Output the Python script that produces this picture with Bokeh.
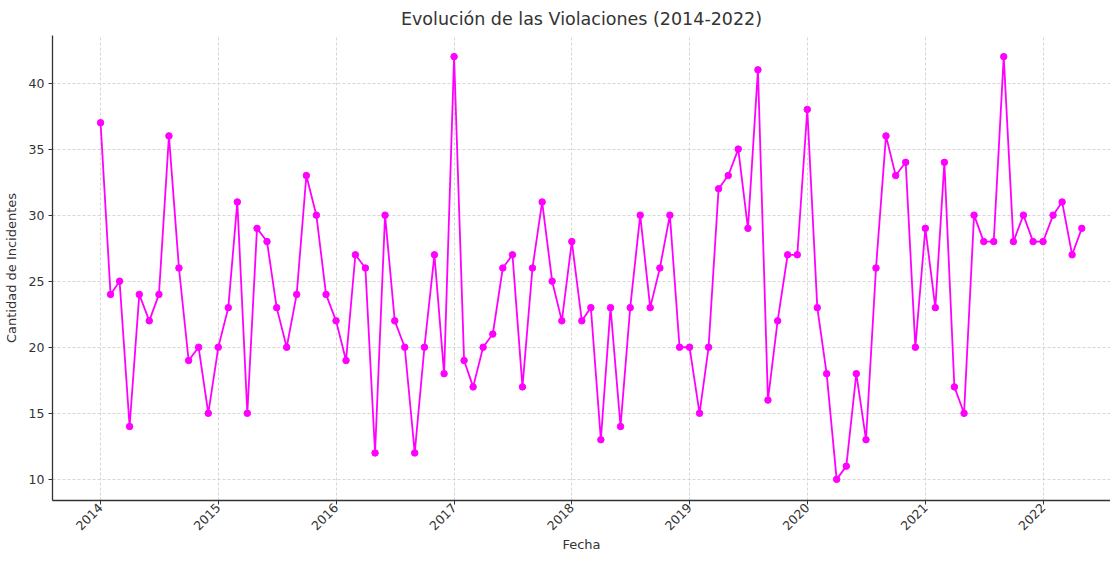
from datetime import datetime
import pandas as pd
from bokeh.plotting import figure
from bokeh.models import ColumnDataSource, Range1d, FixedTicker, DatetimeTickFormatter
from bokeh.embed import file_html
from bokeh.resources import INLINE
import math

# ---- data ----
months = pd.date_range("2014-01-01", "2022-05-01", freq="MS")
incidents_2014 = [37, 24, 25, 14, 24, 22, 24, 36, 26, 19, 20, 15]
incidents_2015 = [20, 23, 31, 15, 29, 28, 23, 20, 24, 33, 30, 24]
incidents_2016 = [22, 19, 27, 26, 12, 30, 22, 20, 12, 20, 27, 18]
incidents_2017 = [42, 19, 17, 20, 21, 26, 27, 17, 26, 31, 25, 22]
incidents_2018 = [28, 22, 23, 13, 23, 14, 23, 30, 23, 26, 30, 20]
incidents_2019 = [20, 15, 20, 32, 33, 35, 29, 41, 16, 22, 27, 27]
incidents_2020 = [38, 23, 18, 10, 11, 18, 13, 26, 36, 33, 34, 20]
incidents_2021 = [29, 23, 34, 17, 15, 30, 28, 28, 42, 28, 30, 28]
incidents_2022 = [28, 30, 31, 27, 29]
incidents = (incidents_2014 + incidents_2015 + incidents_2016 + incidents_2017 +
             incidents_2018 + incidents_2019 + incidents_2020 + incidents_2021 +
             incidents_2022)
tick_years = [2014, 2015, 2016, 2017, 2018, 2019, 2020, 2021, 2022]
y_ticks = [10, 15, 20, 25, 30, 35, 40]

source = ColumnDataSource(data=dict(fecha=list(months), n=incidents))

FONT = "DejaVu Sans"
TXT = "#333333"
LBL = "12.5px"

p = figure(frame_width=1058, frame_height=465, output_backend="svg",
           toolbar_location=None,
           x_axis_type="datetime",
           x_range=Range1d(datetime(2013, 8, 5), datetime(2022, 7, 29)),
           y_range=Range1d(8.4, 43.6),
           min_border_left=0, min_border_right=0, min_border_top=0,
           min_border_bottom=0)

p.title.text = "Evolución de las Violaciones (2014-2022)"
p.title.align = "center"
p.title.text_font = FONT
p.title.text_font_size = "17.5px"
p.title.text_font_style = "normal"
p.title.text_color = TXT
p.title.padding = 4
p.title.standoff = 5

p.line("fecha", "n", source=source, line_color="#ff00ff", line_width=1.8)
p.scatter("fecha", "n", source=source, size=6.5, fill_color="#ff00ff",
          line_color="#ff00ff")

year_ms = [datetime(y, 1, 1).timestamp() * 1000 for y in tick_years]
p.xaxis.ticker = FixedTicker(ticks=year_ms)
p.xaxis.formatter = DatetimeTickFormatter(years="%Y", months="%Y", days="%Y",
                                          hours="%Y", minutes="%Y", seconds="%Y",
                                          milliseconds="%Y", microseconds="%Y")
p.xaxis.major_label_orientation = math.pi / 4
p.yaxis.ticker = FixedTicker(ticks=y_ticks)

p.xaxis.axis_label = "Fecha"
p.yaxis.axis_label = "Cantidad de Incidentes"

for ax in (p.xaxis[0], p.yaxis[0]):
    ax.axis_label_text_font = FONT
    ax.axis_label_text_font_size = "13px"
    ax.axis_label_text_font_style = "normal"
    ax.axis_label_text_color = TXT
    ax.major_label_text_font = FONT
    ax.major_label_text_font_size = LBL
    ax.major_label_text_color = TXT
    ax.axis_line_color = "#333333"
    ax.axis_line_width = 1.3
    ax.major_tick_line_color = "#333333"
    ax.major_tick_out = 4
    ax.major_tick_in = 0
    ax.minor_tick_line_color = None

p.xaxis.major_label_standoff = 1
p.xaxis.axis_label_standoff = 0
p.yaxis.major_label_standoff = 4
p.yaxis.axis_label_standoff = 7

p.outline_line_color = None
p.grid.grid_line_color = "#cccccc"
p.grid.grid_line_dash = "3 2"
p.grid.grid_line_width = 0.8
p.background_fill_color = "white"
p.border_fill_color = "white"

open("out.html", "w").write(file_html(p, INLINE))
